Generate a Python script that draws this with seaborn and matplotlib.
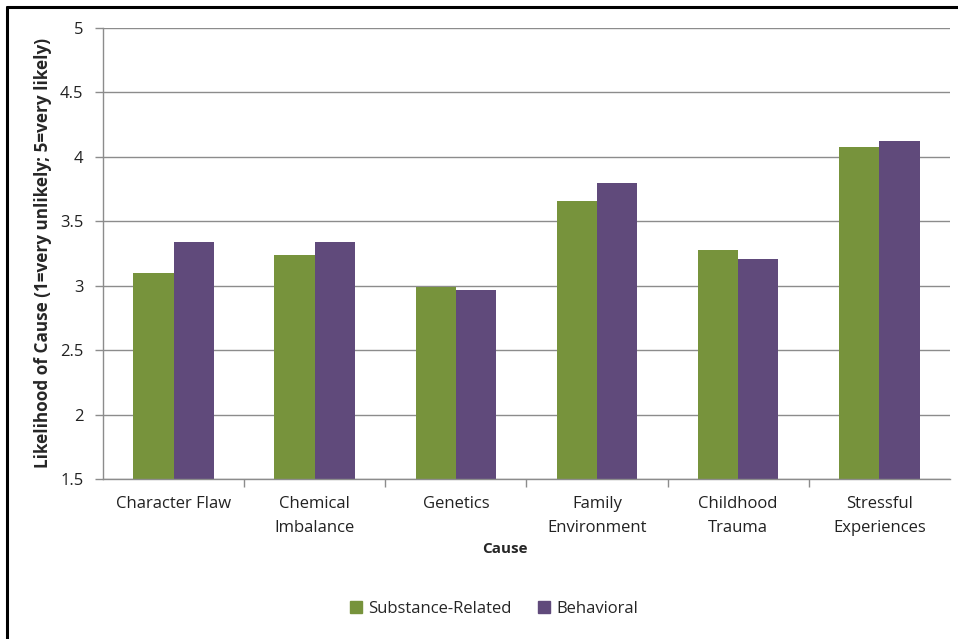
import pandas as pd
import matplotlib.pyplot as plt
import seaborn as sns
from matplotlib.lines import Line2D
from matplotlib.ticker import FixedLocator

causes = ['Character Flaw', 'Chemical\nImbalance', 'Genetics', 'Family\nEnvironment',
          'Childhood\nTrauma', 'Stressful\nExperiences']
substance = [3.10, 3.24, 2.99, 3.66, 3.28, 4.08]
behavioral = [3.34, 3.34, 2.97, 3.80, 3.21, 4.12]
series = ['Substance-Related', 'Behavioral']
yticks = [1.5, 2, 2.5, 3, 3.5, 4, 4.5, 5]
ytick_labels = ['1.5', '2', '2.5', '3', '3.5', '4', '4.5', '5']
colors = ['#77933C', '#604A7B']


def main():
    sns.set_style('white')
    plt.rcParams['font.family'] = ['Open Sans', 'DejaVu Sans']

    df = pd.DataFrame({
        'Cause': causes * 2,
        'value': substance + behavioral,
        'series': [series[0]] * len(causes) + [series[1]] * len(causes),
    })

    fig = plt.figure(figsize=(9.58, 6.39), dpi=100)
    ax = fig.add_axes([0.1075, 0.2504, 0.884, 0.7058])

    sns.barplot(data=df, x='Cause', y='value', hue='series', palette=colors,
                width=0.57, saturation=1, linewidth=0, ax=ax, legend=False)

    ax.set_ylim(1.5, 5)
    ax.set_xlim(-0.5, len(causes) - 0.5)
    ax.set_yticks(yticks)
    ax.set_yticklabels(ytick_labels)
    ax.yaxis.grid(True, color='#8c8c8c', linewidth=1)
    ax.set_axisbelow(True)

    for s in ['top', 'right']:
        ax.spines[s].set_visible(False)
    for s in ['left', 'bottom']:
        ax.spines[s].set_color('#8c8c8c')
        ax.spines[s].set_linewidth(1)

    ax.tick_params(axis='y', direction='out', length=6, color='#8c8c8c',
                   width=1, pad=8, labelsize=12, labelcolor='#222222', left=True)
    ax.tick_params(axis='x', which='major', length=0, pad=12, labelsize=12,
                   labelcolor='#222222')
    ax.xaxis.set_minor_locator(FixedLocator([i + 0.5 for i in range(len(causes) - 1)]))
    ax.tick_params(axis='x', which='minor', direction='out', length=6,
                   color='#8c8c8c', width=1, bottom=True)

    ax.set_xlabel('Cause', fontsize=11, fontweight='bold')
    ax.xaxis.set_label_coords(0.474, -0.139)
    ax.set_ylabel('Likelihood of Cause (1=very unlikely; 5=very likely)',
                  fontsize=12.3, fontweight='bold', labelpad=6)

    handles = [plt.Rectangle((0, 0), 1, 1, color=c) for c in colors]
    fig.legend(handles, series, loc='center', bbox_to_anchor=(0.516, 0.047),
               ncol=2, frameon=False, fontsize=12, handlelength=0.7,
               handleheight=0.7, handletextpad=0.4, columnspacing=1.6)

    # border around the chart
    fig.add_artist(Line2D([0.0073, 1.0], [0.989, 0.989], color='black', linewidth=2.2,
                          transform=fig.transFigure))
    fig.add_artist(Line2D([0.0073, 0.0073], [0.0, 0.989], color='black', linewidth=2.2,
                          transform=fig.transFigure))

    fig.canvas.draw()
    for tick in ax.xaxis.get_major_ticks():
        tick.label1.set_linespacing(1.7)

    fig.savefig('out.png', dpi=100)
    plt.close(fig)


if __name__ == '__main__':
    main()
